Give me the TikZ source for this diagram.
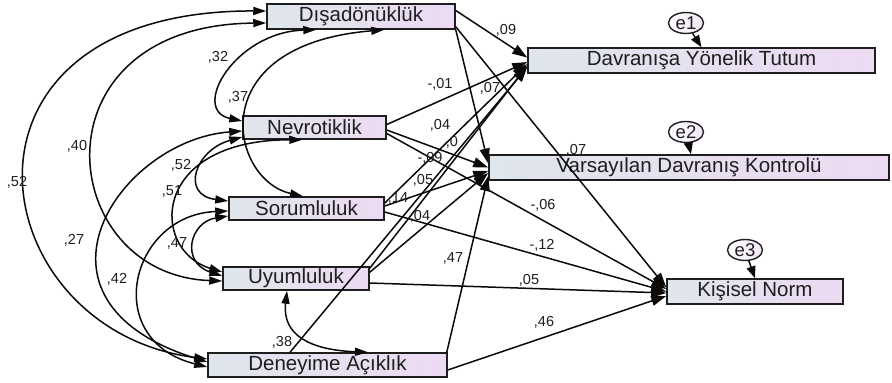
\documentclass[tikz,border=0pt]{standalone}
\usepackage{fontspec}
\setmainfont{Liberation Sans}
\usetikzlibrary{arrows.meta,shapes.geometric}
\definecolor{boxL}{HTML}{DFE6EC}
\definecolor{boxR}{HTML}{EDDAF3}
\definecolor{ink}{HTML}{1E1E1E}
\definecolor{lineink}{HTML}{0A0A0A}
\begin{document}
\begin{tikzpicture}[x=1pt,y=-1pt,
  box/.style={draw=ink, line width=1.5pt, left color=boxL, right color=boxR, inner sep=0pt,
    font=\fontsize{20.5}{24}\selectfont, text=ink},
  errn/.style={ellipse, draw=ink, line width=1.4pt, left color=white, right color=boxR!70,
    minimum width=35pt, minimum height=21pt, inner sep=0pt, font=\fontsize{18.5}{20}\selectfont, text=ink},
  lbl/.style={font=\fontsize{14.5}{16}\selectfont, text=ink, inner sep=0pt},
  reg/.style={draw=lineink, line width=1.5pt, -{Triangle[length=15pt,width=10pt]}},
  errarr/.style={draw=lineink, line width=1.5pt, -{Triangle[length=12pt,width=9pt]}},
  cov/.style={draw=lineink, line width=1.5pt, {Triangle[length=13pt,width=8pt]}-{Triangle[length=13pt,width=8pt]}}
]
\useasboundingbox[fill=white] (0,0) rectangle (892,383);

% boxes
\node[box, minimum width=188pt, minimum height=25pt] (dis) at (361,16.5) {Dışadönüklük};
\node[box, minimum width=143pt, minimum height=23pt] (nev) at (314.5,127.5) {Nevrotiklik};
\node[box, minimum width=155pt, minimum height=23pt] (sor) at (306.5,208.5) {Sorumluluk};
\node[box, minimum width=146pt, minimum height=23pt] (uyu) at (296,278.5) {Uyumluluk};
\node[box, minimum width=239pt, minimum height=24pt] (den) at (327.5,365) {Deneyime Açıklık};
\node[box, minimum width=347pt, minimum height=25pt] (tut) at (701.5,60.5) {Davranışa Yönelik Tutum};
\node[box, minimum width=400pt, minimum height=25pt] (vdk) at (689,167.5) {Varsayılan Davranış Kontrolü};
\node[box, minimum width=176pt, minimum height=25pt] (kn) at (755,291.5) {Kişisel Norm};

% error terms
\node[errn] (e1) at (686,23) {e1};
\node[errn] (e2) at (686,132) {e2};
\node[errn] (e3) at (745,250) {e3};
\draw[errarr] (e1) -- (tut.north);
\draw[errarr] (e2) -- ([xshift=2pt]vdk.north);
\draw[errarr] (e3) -- (kn.north);

% regressions
\draw[reg] ([yshift=6pt]dis.east) -- ([yshift=3pt]tut.west);
\draw[reg] (dis.south east) -- ([yshift=4pt]vdk.west);
\draw[reg] ([yshift=3pt]dis.south east) -- ([yshift=4pt]kn.west);
\draw[reg] ([yshift=3pt]nev.east) -- ([yshift=-1.5pt]tut.west);
\draw[reg] ([yshift=-2.5pt]nev.east) -- (vdk.west);
\draw[reg] ([yshift=-6pt]nev.east) -- ([yshift=2.5pt]kn.west);
\draw[reg] ([yshift=5.5pt]sor.east) -- ([yshift=-3.5pt]tut.west);
\draw[reg] ([yshift=2.5pt]sor.east) -- ([yshift=-3.5pt]vdk.west);
\draw[reg] ([yshift=-3.5pt]sor.east) -- (kn.west);
\draw[reg] ([yshift=-2pt]uyu.north east) -- ([yshift=-5.5pt]tut.west);
\draw[reg] ([yshift=-6pt]uyu.north east) -- ([yshift=-5.5pt]vdk.west);
\draw[reg] ([yshift=-4.5pt]uyu.east) -- ([yshift=-1.5pt]kn.west);
\draw[reg] ([xshift=-37.5pt]den.north) -- ([yshift=-6.5pt]tut.west);
\draw[reg] ([xshift=-1pt]den.north east) -- ([yshift=-8.5pt]vdk.west);
\draw[reg] ([yshift=-5pt]den.east) -- ([yshift=-4.5pt]kn.west);

% covariances
\draw[cov] ([xshift=50pt]dis.south west) .. controls (235,32) and (190,110) .. ([yshift=6.5pt]nev.west);
\draw[cov] ([xshift=118pt]dis.south west) .. controls (200,45) and (230,180) .. ([xshift=-3.5pt]sor.north);
\draw[cov] ([yshift=-6.5pt]dis.west) .. controls (30,25) and (55,275) .. ([yshift=-2.5pt]uyu.west);
\draw[cov] ([yshift=5.5pt]dis.west) .. controls (-70,10) and (-20,330) .. ([yshift=6pt]den.west);
\draw[cov] ([yshift=-9.5pt]nev.west) .. controls (195,150) and (180,195) .. ([yshift=7.5pt]sor.west);
\draw[cov] ([xshift=60pt]nev.south west) .. controls (150,140) and (150,250) .. ([yshift=6.5pt]uyu.west);
\draw[cov] ([yshift=-3.5pt]nev.west) .. controls (120,140) and (10,300) .. ([yshift=3pt]den.west);
\draw[cov] ([yshift=-7.5pt]sor.west) .. controls (190,222) and (180,262) .. ([yshift=2.5pt]uyu.west);
\draw[cov] ([yshift=-2.5pt]sor.west) .. controls (130,215) and (100,340) .. ([yshift=-2pt]den.west);
\draw[cov] ([xshift=-9pt]uyu.south) .. controls (282,335) and (310,350) .. ([xshift=40.5pt]den.north);

% path labels
\node[lbl] (l1) at (506,30) {,09};
\node[lbl] (l2) at (440,84) {-,01};
\node[lbl] (l3) at (490,88) {,07};
\node[lbl] (l4) at (440,125) {,04};
\node[lbl] (l5) at (452,142) {,0};
\node[lbl] (l6) at (430,158) {-,09};
\node[lbl] (l7) at (423,180) {,05};
\node[lbl] (l8) at (398,198) {,14};
\node[lbl] (l9) at (420,216) {,04};
\node[lbl] (l10) at (453,258) {,47};
\node[lbl] (l11) at (576,150) {,07};
\node[lbl] (l12) at (543,205) {-,06};
\node[lbl] (l13) at (542,245) {-,12};
\node[lbl] (l14) at (529,280) {,05};
\node[lbl] (l15) at (544,322) {,46};
% covariance labels
\node[lbl] (c1) at (218,57) {,32};
\node[lbl] (c2) at (238,97) {,37};
\node[lbl] (c3) at (77,146) {,40};
\node[lbl] (c4) at (17,182) {,52};
\node[lbl] (c5) at (181,165) {,52};
\node[lbl] (c6) at (172,191) {,51};
\node[lbl] (c7) at (74,240) {,27};
\node[lbl] (c8) at (177,243) {,47};
\node[lbl] (c9) at (117,279) {,42};
\node[lbl] (c10) at (282,342) {,38};
\end{tikzpicture}
\end{document}
